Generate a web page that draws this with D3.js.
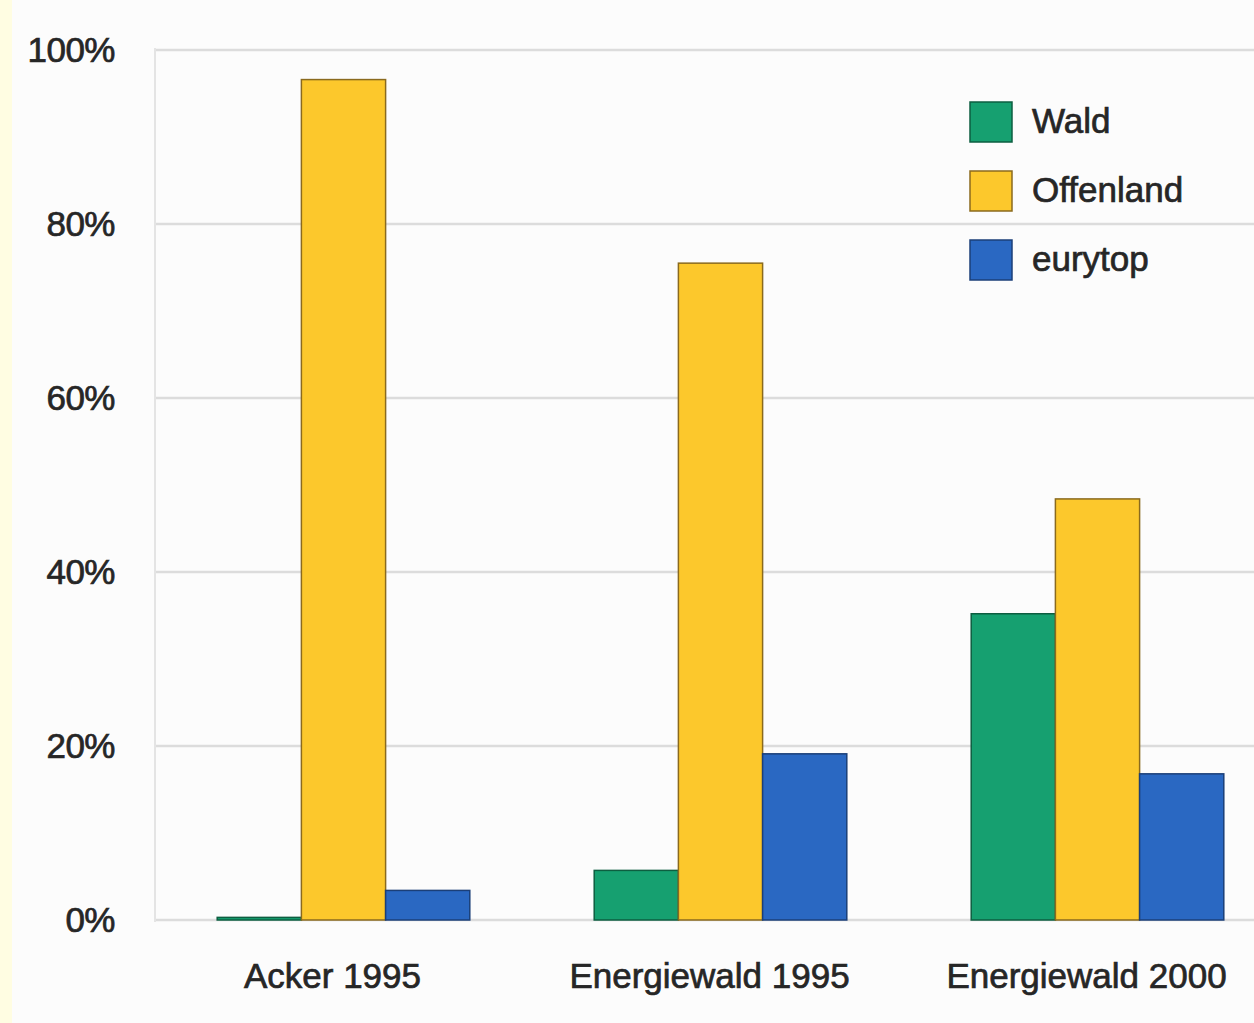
<!DOCTYPE html>
<html>
<head>
<meta charset="utf-8">
<script src="https://cdn.jsdelivr.net/npm/d3@7"></script>
<style>
  body { margin: 0; background: #fcfcfc; }
  svg { display: block; }
</style>
</head>
<body>
<svg id="chart"></svg>
<script>
// data
var categories = ["Acker 1995", "Energiewald 1995", "Energiewald 2000"];
var seriesNames = ["Wald", "Offenland", "eurytop"];
var wald = [0.3, 5.7, 35.2];
var offenland = [96.6, 75.5, 48.4];
var eurytop = [3.4, 19.1, 16.8];
var yTicks = [0, 20, 40, 60, 80, 100];

var colors = {"Wald": "#16a070", "Offenland": "#fcc82c", "eurytop": "#2a68c2"};
var strokes = {"Wald": "#0d5e40", "Offenland": "#8a6a1e", "eurytop": "#1b3f78"};

var W = 1254, H = 1023;
var svg = d3.select("#chart").attr("width", W).attr("height", H);

// yellowish strip on the left edge
svg.append("rect").attr("x", 0).attr("y", 0).attr("width", 12).attr("height", H)
    .attr("fill", "#fffde2");

var y = d3.scaleLinear().domain([0, 100]).range([920, 50]);
var x0 = d3.scaleBand().domain(categories).range([155, 1286])
    .paddingInner(0.33).paddingOuter(0.165);
var x1 = d3.scaleBand().domain(seriesNames).range([0, x0.bandwidth()]);

function txt(sel, size) {
    sel.style("font-family", "Liberation Sans, Arial, sans-serif")
        .style("font-size", size + "px")
        .style("fill", "#262626")
        .style("stroke", "#262626")
        .style("stroke-width", "0.7px");
}

// gridlines
svg.append("g").selectAll("line")
    .data(yTicks)
    .enter()
    .append("line")
    .attr("x1", 155).attr("x2", W)
    .attr("y1", function(d) { return y(d); })
    .attr("y2", function(d) { return y(d); })
    .attr("stroke", "#dcdcdc")
    .attr("stroke-width", 2.5);

svg.append("line")
    .attr("x1", 155).attr("x2", 155).attr("y1", 48).attr("y2", 922)
    .attr("stroke", "#e4e4e4").attr("stroke-width", 2);

// y labels
svg.append("g").selectAll("text")
    .data(yTicks)
    .enter()
    .append("text")
    .attr("x", 115)
    .attr("y", function(d) { return y(d) + 12; })
    .attr("text-anchor", "end")
    .call(txt, 35)
    .style("letter-spacing", "-0.5px")
    .text(function(d) { return d + "%"; });

// bars
var rows = categories.map(function(c, i) {
    return {cat: c, values: [
        {key: "Wald", v: wald[i]},
        {key: "Offenland", v: offenland[i]},
        {key: "eurytop", v: eurytop[i]}
    ]};
});

svg.append("g").selectAll("g")
    .data(rows)
    .enter()
    .append("g")
    .attr("transform", function(d) { return "translate(" + x0(d.cat) + ",0)"; })
    .selectAll("rect")
    .data(function(d) { return d.values; })
    .enter()
    .append("rect")
    .attr("x", function(d) { return x1(d.key); })
    .attr("width", x1.bandwidth())
    .attr("y", function(d) { return y(d.v); })
    .attr("height", function(d) { return y(0) - y(d.v); })
    .attr("fill", function(d) { return colors[d.key]; })
    .attr("stroke", function(d) { return strokes[d.key]; })
    .attr("stroke-width", 1.5);

// category labels
svg.append("g").selectAll("text")
    .data(categories)
    .enter()
    .append("text")
    .attr("x", function(d) { return x0(d) + x0.bandwidth() / 2 - 11; })
    .attr("y", 988)
    .attr("text-anchor", "middle")
    .call(txt, 35)
    .text(function(d) { return d; });

// legend
var legend = svg.append("g").selectAll("g")
    .data(seriesNames)
    .enter()
    .append("g")
    .attr("transform", function(d, i) { return "translate(970," + (102 + i * 69) + ")"; });

legend.append("rect")
    .attr("width", 42).attr("height", 40)
    .attr("fill", function(d) { return colors[d]; })
    .attr("stroke", function(d) { return strokes[d]; })
    .attr("stroke-width", 1.5);

legend.append("text")
    .attr("x", 62).attr("y", 31)
    .call(txt, 35)
    .text(function(d) { return d; });
</script>
</body>
</html>
